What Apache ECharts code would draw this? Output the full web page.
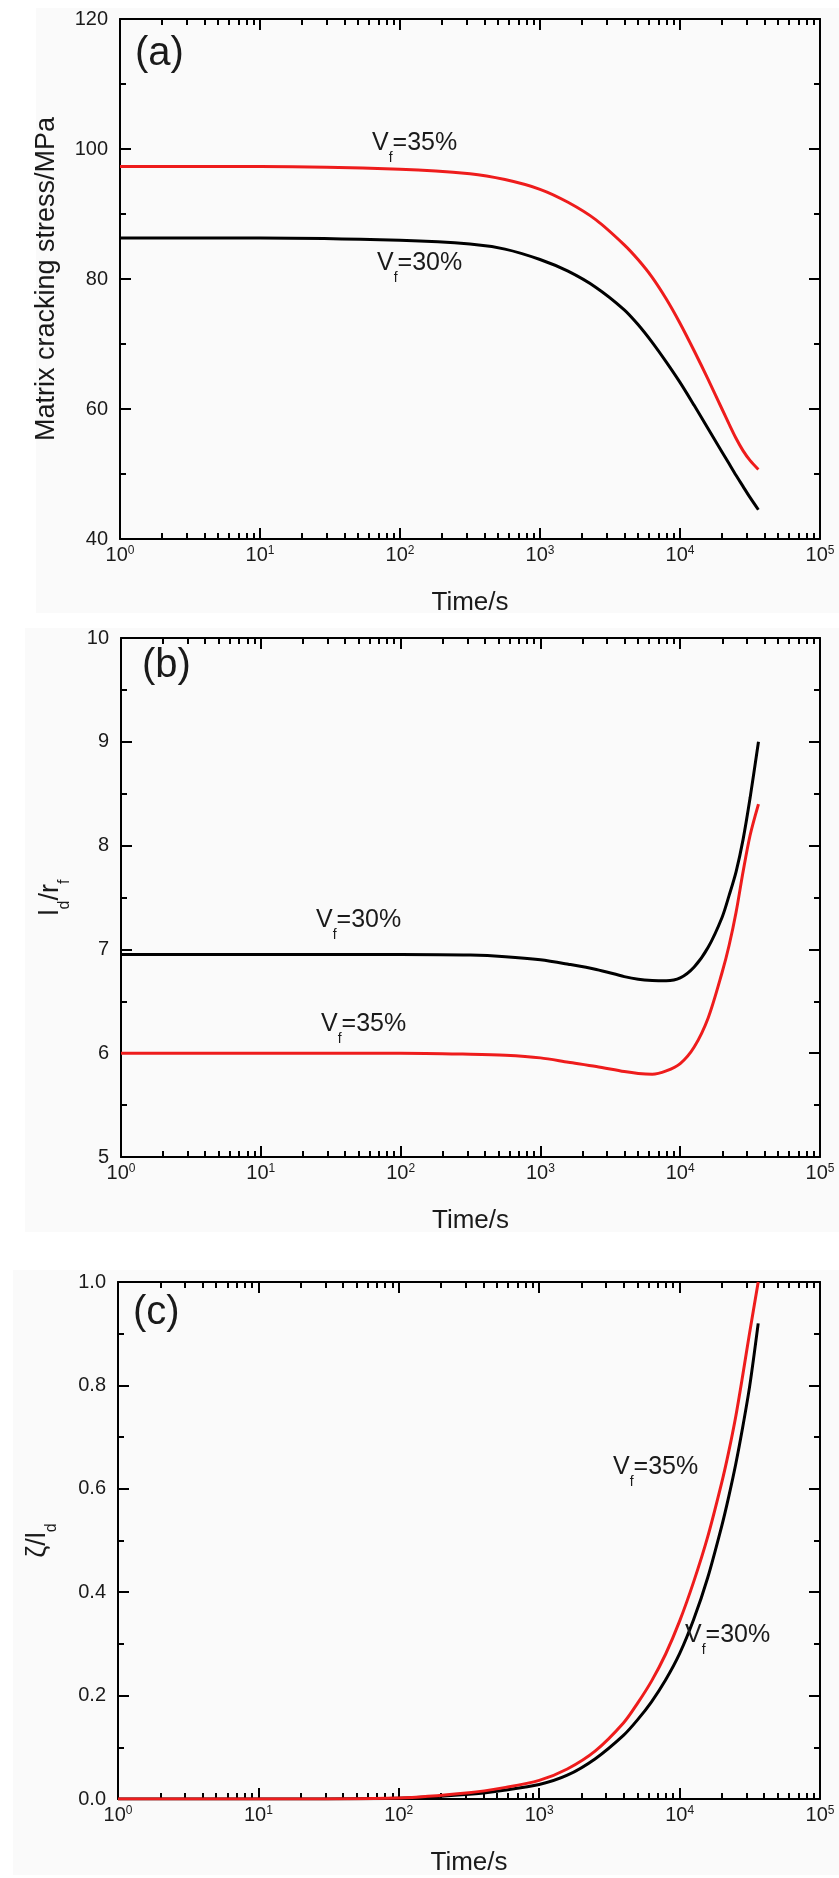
<!DOCTYPE html>
<html><head><meta charset="utf-8">
<script src="https://cdn.jsdelivr.net/npm/echarts@6/dist/echarts.min.js"></script>
<style>html,body{margin:0;padding:0;background:#fff}#c{width:839px;height:1878px}</style>
</head><body><div id="c"></div>
<script>
// ---------- data ----------
const time = [1, 10, 100, 316, 562, 1000, 1585, 2512, 3981, 5012, 6310, 7943, 10000, 12589, 15849, 19953, 22387, 25119, 28184, 31623, 36300];
// (a) matrix cracking stress / MPa
const stressVf30 = [86.3, 86.3, 85.95, 85.4, 84.6, 83.0, 81.2, 78.7, 75.3, 73.0, 70.3, 67.3, 64.1, 60.6, 57.0, 53.4, 51.6, 49.8, 48.1, 46.4, 44.5];
const stressVf35 = [97.3, 97.3, 96.9, 96.2, 95.3, 93.8, 91.8, 89.1, 85.3, 83.0, 80.3, 77.0, 73.2, 69.0, 64.6, 60.0, 57.7, 55.5, 53.6, 52.1, 50.7];
// (b) l_d / r_f
const debondVf30 = [6.95, 6.95, 6.95, 6.945, 6.93, 6.90, 6.857, 6.807, 6.738, 6.712, 6.70, 6.697, 6.725, 6.83, 7.02, 7.31, 7.52, 7.75, 8.06, 8.46, 9.0];
const debondVf35 = [6.0, 6.0, 6.0, 5.99, 5.98, 5.955, 5.913, 5.872, 5.823, 5.805, 5.798, 5.83, 5.90, 6.06, 6.34, 6.78, 7.04, 7.36, 7.75, 8.10, 8.40];
// (c) zeta / l_d
const slipVf30 = [0, 0, 0.0015, 0.009, 0.017, 0.028, 0.046, 0.078, 0.123, 0.153, 0.188, 0.23, 0.281, 0.347, 0.428, 0.528, 0.585, 0.648, 0.72, 0.80, 0.92];
const slipVf35 = [0, 0, 0.002, 0.012, 0.022, 0.036, 0.058, 0.093, 0.147, 0.185, 0.228, 0.28, 0.344, 0.42, 0.507, 0.612, 0.672, 0.74, 0.82, 0.904, 1.0];
// tick labels
const timeTickExponents = [0, 1, 2, 3, 4, 5];
const yTicksA = [40, 60, 80, 100, 120];
const yTicksB = [5, 6, 7, 8, 9, 10];
const yTicksC = ['0.0', '0.2', '0.4', '0.6', '0.8', '1.0'];

// ---------- styling ----------
const FONT = '"Liberation Sans", Arial, sans-serif';
const TXT = '#1a1a1a';
const BLACK = '#000000';
const RED = '#ee1c1c';

const grids = [
  { left: 120, top: 19, width: 700, height: 520 },
  { left: 121, top: 638, width: 699, height: 519 },
  { left: 118, top: 1282, width: 702, height: 517 }
];
const yCfg = [
  { min: 40, max: 120, interval: 20, ticks: yTicksA, name: 'Matrix cracking stress/MPa', nameGap: 60 },
  { min: 5, max: 10, interval: 1, ticks: yTicksB, name: '{i|l}{sub|d}{i|/r}{sub|f}', nameGap: 56 },
  { min: 0, max: 1, interval: 0.2, ticks: yTicksC, name: '{i|ζ/l}{sub|d}', nameGap: 66 }
];

const lineSt = { color: BLACK, width: 2 };
function xAxis(i, pos) {
  const bottom = pos === 'bottom';
  return {
    type: 'log', logBase: 10, gridIndex: i, min: 1, max: 100000, position: pos,
    name: bottom ? 'Time/s' : '', nameLocation: 'middle', nameGap: 51,
    nameTextStyle: { fontFamily: FONT, fontSize: 26, color: TXT },
    axisLine: { show: true, onZero: false, lineStyle: lineSt },
    axisTick: { show: true, inside: true, length: 11, lineStyle: lineSt },
    minorTick: { show: true, splitNumber: 9, length: 6, lineStyle: lineSt },
    splitLine: { show: false }, minorSplitLine: { show: false },
    axisLabel: {
      show: bottom, margin: 6,
      formatter: v => '{b|10}{s|' + timeTickExponents[Math.round(Math.log10(v))] + '}',
      rich: {
        b: { fontFamily: FONT, fontSize: 20, color: TXT, lineHeight: 22, verticalAlign: 'top' },
        s: { fontFamily: FONT, fontSize: 12, color: TXT, lineHeight: 12, verticalAlign: 'top' }
      }
    }
  };
}
function yAxis(i, pos) {
  const c = yCfg[i];
  const left = pos === 'left';
  return {
    type: 'value', gridIndex: i, min: c.min, max: c.max, interval: c.interval, position: pos,
    name: left ? c.name : '', nameLocation: 'middle', nameGap: c.nameGap,
    nameTextStyle: {
      fontFamily: FONT, fontSize: 27, color: TXT,
      rich: {
        i: { fontFamily: FONT, fontSize: 27, color: TXT, lineHeight: 28, verticalAlign: 'top' },
        sub: { fontFamily: FONT, fontSize: 16, color: TXT, lineHeight: 16, padding: [20, 0, 0, 0], verticalAlign: 'top' }
      }
    },
    axisLine: { show: true, onZero: false, lineStyle: lineSt },
    axisTick: { show: true, inside: true, length: 11, lineStyle: lineSt },
    minorTick: { show: true, splitNumber: 2, length: 6, lineStyle: lineSt },
    splitLine: { show: false }, minorSplitLine: { show: false },
    axisLabel: {
      show: left, margin: 12, fontFamily: FONT, fontSize: 20, color: TXT,
      formatter: v => String(c.ticks[Math.round((v - c.min) / c.interval)])
    }
  };
}

const xAxes = [], yAxes = [];
for (let i = 0; i < 3; i++) {
  xAxes.push(xAxis(i, 'bottom'), xAxis(i, 'top'));
  yAxes.push(yAxis(i, 'left'), yAxis(i, 'right'));
}

function pairs(vals) { return time.map((t, k) => [t, vals[k]]); }
function line(i, vals, color, name) {
  return {
    type: 'line', name: name, xAxisIndex: 2 * i, yAxisIndex: 2 * i,
    data: pairs(vals), showSymbol: false, smooth: 0.3, clip: true,
    lineStyle: { color: color, width: 3 }, itemStyle: { color: color }
  };
}
const series = [
  line(0, stressVf30, BLACK, 'Vf=30%'), line(0, stressVf35, RED, 'Vf=35%'),
  line(1, debondVf30, BLACK, 'Vf=30%'), line(1, debondVf35, RED, 'Vf=35%'),
  line(2, slipVf30, BLACK, 'Vf=30%'), line(2, slipVf35, RED, 'Vf=35%')
];

const vfRich = {
  v: { fontFamily: FONT, fontSize: 25, fill: TXT, lineHeight: 26, verticalAlign: 'top' },
  s: { fontFamily: FONT, fontSize: 14, fill: TXT, lineHeight: 14, padding: [20, 0, 0, 0], verticalAlign: 'top' }
};
function vfLabel(pct, x, y) {
  return { type: 'text', x: x, y: y, silent: true, z: 10,
    style: { text: '{v|V}{s|f}{v|=' + pct + '%}', rich: vfRich, verticalAlign: 'top', align: 'left' } };
}
function panelLabel(t, x, y) {
  return { type: 'text', x: x, y: y, silent: true, z: 10,
    style: { text: t, fontFamily: FONT, fontSize: 40, fill: TXT, verticalAlign: 'middle', align: 'left' } };
}
function bg(x, y, w, h) {
  return { type: 'rect', shape: { x: x, y: y, width: w, height: h }, silent: true, z: -100,
    style: { fill: '#fafafa' } };
}

const option = {
  animation: false,
  backgroundColor: '#ffffff',
  grid: grids,
  xAxis: xAxes,
  yAxis: yAxes,
  series: series,
  graphic: [
    bg(36, 8, 803, 605), bg(25, 628, 814, 604), bg(13, 1270, 826, 605),
    panelLabel('(a)', 135, 54), panelLabel('(b)', 142, 666), panelLabel('(c)', 133, 1313),
    vfLabel(35, 372, 131), vfLabel(30, 377, 251),
    vfLabel(30, 316, 908), vfLabel(35, 321, 1012),
    vfLabel(35, 613, 1455), vfLabel(30, 685, 1623)
  ]
};
const chart = echarts.init(document.getElementById('c'), null, { renderer: 'canvas' });
chart.setOption(option);
</script>
</body></html>
